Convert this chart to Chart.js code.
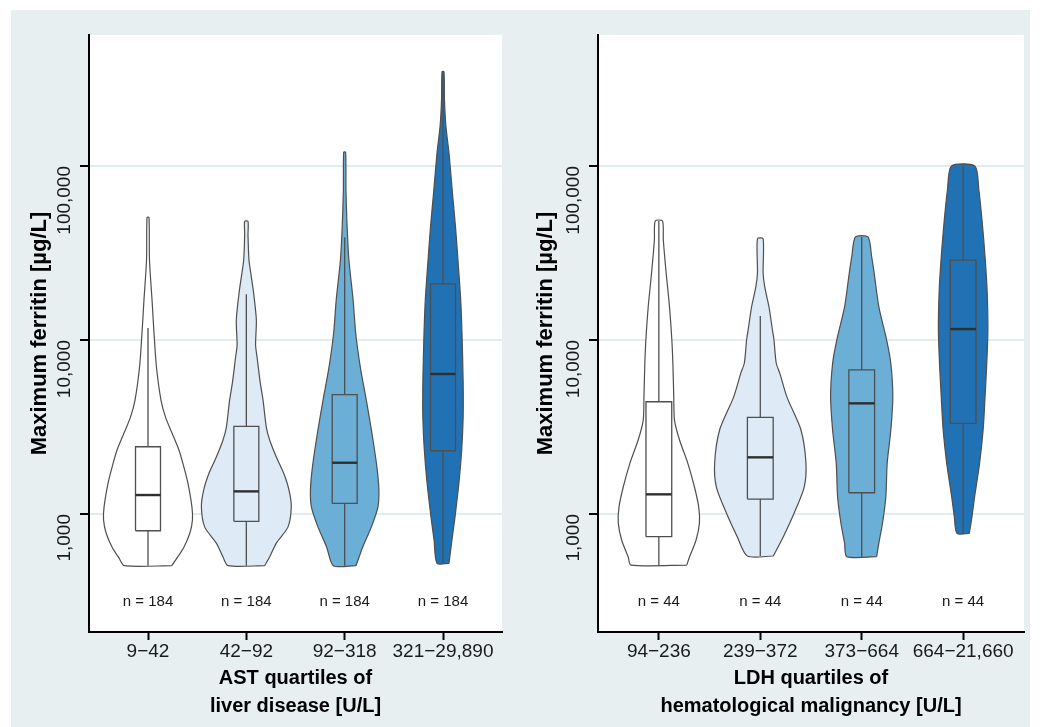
<!DOCTYPE html>
<html><head><meta charset="utf-8">
<script src="https://cdn.jsdelivr.net/npm/chart.js@4"></script>
<style>
html,body{margin:0;padding:0;background:#fff;width:1040px;height:727px;overflow:hidden;}
#bg{position:absolute;left:11px;top:10px;width:1019px;height:717px;background:#e7eff1;}
canvas{position:absolute;top:0;}
#c1{left:0}
#c2{left:520px}
</style></head><body>
<div id="bg"></div>
<canvas id="c1" width="520" height="727"></canvas>
<canvas id="c2" width="520" height="727"></canvas>
<script>
// ---------- DATA ----------
const astCategories = ['9\u221242', '42\u221292', '92\u2212318', '321\u221229,890'];
const ldhCategories = ['94\u2212236', '239\u2212372', '373\u2212664', '664\u221221,660'];
const astN = [184, 184, 184, 184];
const ldhN = [44, 44, 44, 44];
const yTickValues = [1000, 10000, 100000];

// box-plot statistics (ferritin, µg/L)
const astQ1 = [802, 908, 1152, 2310];
const astMedian = [1286, 1350, 1972, 6380];
const astQ3 = [2437, 3190, 4850, 21000];
const astWhiskerLow = [505, 505, 505, 521];
const astWhiskerHigh = [11720, 18300, 38900, 348000];

const ldhQ1 = [741, 1219, 1326, 3317];
const ldhMedian = [1298, 2118, 4327, 11560];
const ldhQ3 = [4420, 3594, 6730, 28800];
const ldhWhiskerLow = [509, 574, 569, 774];
const ldhWhiskerHigh = [48300, 13740, 39100, 100000];

// violin density profiles: ferritin levels and half-widths (category units)
const astViolinLevels = [
  [505, 558, 645, 778, 924, 1097, 1507, 1862, 2333, 2922, 3608, 4518, 6995, 10970, 16980, 28820, 50700],
  [505, 566, 681, 841, 1097, 1374, 1721, 2127, 2663, 3162, 4518, 5659, 7984, 9360, 13030, 18620, 23010, 28820, 40090, 48100],
  [505, 645, 841, 1097, 1374, 1862, 2922, 4518, 6995, 10970, 16980, 28820, 44770, 72780, 119900],
  [521, 709, 961, 1507, 2333, 3608, 5659, 10970, 16980, 28820, 44770, 69930, 118800, 168300, 239500, 348300]
];
const astViolinHalfWidths = [
  [0.241, 0.294, 0.365, 0.426, 0.452, 0.447, 0.406, 0.365, 0.315, 0.244, 0.178, 0.132, 0.086, 0.061, 0.041, 0.015, 0.010],
  [0.186, 0.237, 0.305, 0.423, 0.457, 0.434, 0.379, 0.305, 0.237, 0.203, 0.170, 0.142, 0.109, 0.094, 0.102, 0.074, 0.051, 0.027, 0.017, 0.017],
  [0.115, 0.183, 0.271, 0.338, 0.348, 0.328, 0.277, 0.220, 0.159, 0.112, 0.086, 0.043, 0.025, 0.013, 0.010],
  [0.061, 0.091, 0.122, 0.162, 0.190, 0.205, 0.205, 0.193, 0.180, 0.152, 0.127, 0.096, 0.061, 0.030, 0.015, 0.010]
];
const ldhViolinLevels = [
  [509, 566, 709, 887, 1097, 1430, 1963, 2663, 3468, 4700, 7379, 10000, 15480, 24270, 37580, 48300],
  [574, 738, 1013, 1430, 1963, 3041, 4700, 6457, 7379, 10000, 11410, 15480, 20180, 24270, 38200],
  [569, 680, 885, 1257, 1954, 3041, 4720, 7345, 10000, 15520, 24160, 30130, 39100],
  [774, 964, 1257, 1954, 3041, 4720, 7345, 11410, 19370, 30130, 46880, 72780, 100000]
];
const ldhViolinHalfWidths = [
  [0.275, 0.302, 0.367, 0.400, 0.393, 0.351, 0.285, 0.204, 0.154, 0.147, 0.138, 0.128, 0.105, 0.072, 0.044, 0.036],
  [0.128, 0.226, 0.334, 0.433, 0.450, 0.401, 0.263, 0.192, 0.157, 0.135, 0.120, 0.086, 0.044, 0.028, 0.028],
  [0.147, 0.169, 0.205, 0.238, 0.251, 0.287, 0.307, 0.287, 0.246, 0.169, 0.123, 0.098, 0.062],
  [0.061, 0.087, 0.113, 0.162, 0.197, 0.216, 0.233, 0.244, 0.236, 0.216, 0.189, 0.155, 0.115]
];

// ---------- STYLE ----------
const FILLS = ['#ffffff', '#deebf7', '#6baed6', '#2171b5'];
const OUTLINE = '#4f4f4f';
const MEDIAN_COLOR = '#2f2f2f';
const BOX_HALF = 0.127;
const FONT = "'Liberation Sans', Arial, Helvetica, sans-serif";

Chart.defaults.font.family = FONT;
Chart.defaults.color = '#1a1a1a';

function buildDatasets(levels, halfWidths, q1, med, q3, wLow, wHigh) {
  const ds = [];
  for (let i = 0; i < levels.length; i++) {
    const c = i + 1;
    const right = levels[i].map((v, k) => ({x: c + halfWidths[i][k], y: v}));
    const left = levels[i].map((v, k) => ({x: c - halfWidths[i][k], y: v})).reverse();
    const pts = right.concat(left);
    pts.push(right[0]);
    ds.push({data: pts, backgroundColor: FILLS[i], borderColor: OUTLINE, borderWidth: 1.2,
             fill: 'shape', tension: 0.25, order: 4});
    ds.push({data: [{x: c, y: wLow[i]}, {x: c, y: wHigh[i]}], borderColor: OUTLINE,
             borderWidth: 1.3, fill: false, order: 3});
    ds.push({data: [{x: c - BOX_HALF, y: q1[i]}, {x: c + BOX_HALF, y: q1[i]},
                    {x: c + BOX_HALF, y: q3[i]}, {x: c - BOX_HALF, y: q3[i]},
                    {x: c - BOX_HALF, y: q1[i]}],
             backgroundColor: FILLS[i], borderColor: OUTLINE, borderWidth: 1.3,
             fill: 'shape', tension: 0, order: 2});
    ds.push({data: [{x: c - BOX_HALF, y: med[i]}, {x: c + BOX_HALF, y: med[i]}],
             borderColor: MEDIAN_COLOR, borderWidth: 2.4, fill: false, order: 1});
  }
  return ds;
}

const whiteArea = {
  id: 'whiteArea',
  beforeDraw(chart) {
    const {ctx, chartArea: a} = chart;
    ctx.save();
    ctx.fillStyle = '#ffffff';
    ctx.fillRect(a.left, a.top, a.right - a.left, a.bottom - a.top);
    ctx.restore();
  }
};

const nLabels = {
  id: 'nLabels',
  afterDatasetsDraw(chart, args, opts) {
    const {ctx, chartArea: a} = chart;
    const xs = chart.scales.x;
    ctx.save();
    ctx.font = '15px ' + FONT;
    ctx.fillStyle = '#1a1a1a';
    ctx.textAlign = 'center';
    ctx.textBaseline = 'middle';
    opts.counts.forEach((n, i) => {
      ctx.fillText('n = ' + n, xs.getPixelForValue(i + 1), a.bottom - 30);
    });
    ctx.restore();
  }
};

function makeChart(id, cats, counts, xTitle, datasets, layoutCfg) {
  return new Chart(document.getElementById(id), {
    type: 'line',
    data: {datasets},
    options: {
      responsive: false,
      animation: false,
      events: [],
      layout: {padding: {top: 35, right: layoutCfg.padRight, left: 0, bottom: 0}},
      elements: {point: {radius: 0, hitRadius: 0, hoverRadius: 0}},
      plugins: {
        legend: {display: false},
        tooltip: {enabled: false},
        nLabels: {counts}
      },
      scales: {
        x: {
          type: 'linear', min: 0.4, max: 4.6, bounds: 'data',
          afterBuildTicks: s => { s.ticks = cats.map((c, i) => ({value: i + 1})); },
          afterFit: s => { s.height = 95; },
          grid: {drawOnChartArea: false, drawTicks: true, tickLength: 8, tickColor: '#000', tickWidth: 2, color: '#000'},
          border: {display: true, color: '#000', width: 2},
          ticks: {font: {size: 19}, color: '#1a1a1a', padding: 0, minRotation: 0, maxRotation: 0, autoSkip: false,
                  callback: v => cats[Math.round(v) - 1]},
          title: {display: true, text: xTitle, color: '#000',
                  font: {size: 20, weight: 'bold', lineHeight: 1.375}, padding: {top: 0, bottom: 7}}
        },
        y: {
          type: 'logarithmic', min: 210, max: 566000, bounds: 'data',
          afterBuildTicks: s => { s.ticks = yTickValues.map(v => ({value: v})); },
          afterFit: s => { s.width = layoutCfg.yWidth; },
          grid: {color: '#e2edf0', lineWidth: 2, drawTicks: true, tickLength: 9, tickColor: '#000', tickWidth: 2},
          border: {display: true, color: '#000', width: 2},
          ticks: {font: {size: 19}, color: '#1a1a1a', padding: 15, minRotation: 90, maxRotation: 90, autoSkip: false,
                  callback: v => Number(v).toLocaleString('en-US')},
          title: {display: true, text: 'Maximum ferritin [\u00b5g/L]', color: '#000',
                  font: {size: 22, weight: 'bold'}, padding: {top: layoutCfg.titlePad, bottom: 0}}
        }
      }
    },
    plugins: [whiteArea, nLabels]
  });
}

makeChart('c1', astCategories, astN, ['AST quartiles of', 'liver disease [U/L]'],
  buildDatasets(astViolinLevels, astViolinHalfWidths, astQ1, astMedian, astQ3, astWhiskerLow, astWhiskerHigh),
  {padRight: 18, yWidth: 89, titlePad: 26.3});

makeChart('c2', ldhCategories, ldhN, ['LDH quartiles of', 'hematological malignancy [U/L]'],
  buildDatasets(ldhViolinLevels, ldhViolinHalfWidths, ldhQ1, ldhMedian, ldhQ3, ldhWhiskerLow, ldhWhiskerHigh),
  {padRight: 16, yWidth: 78, titlePad: 12.8});
</script>
</body></html>
